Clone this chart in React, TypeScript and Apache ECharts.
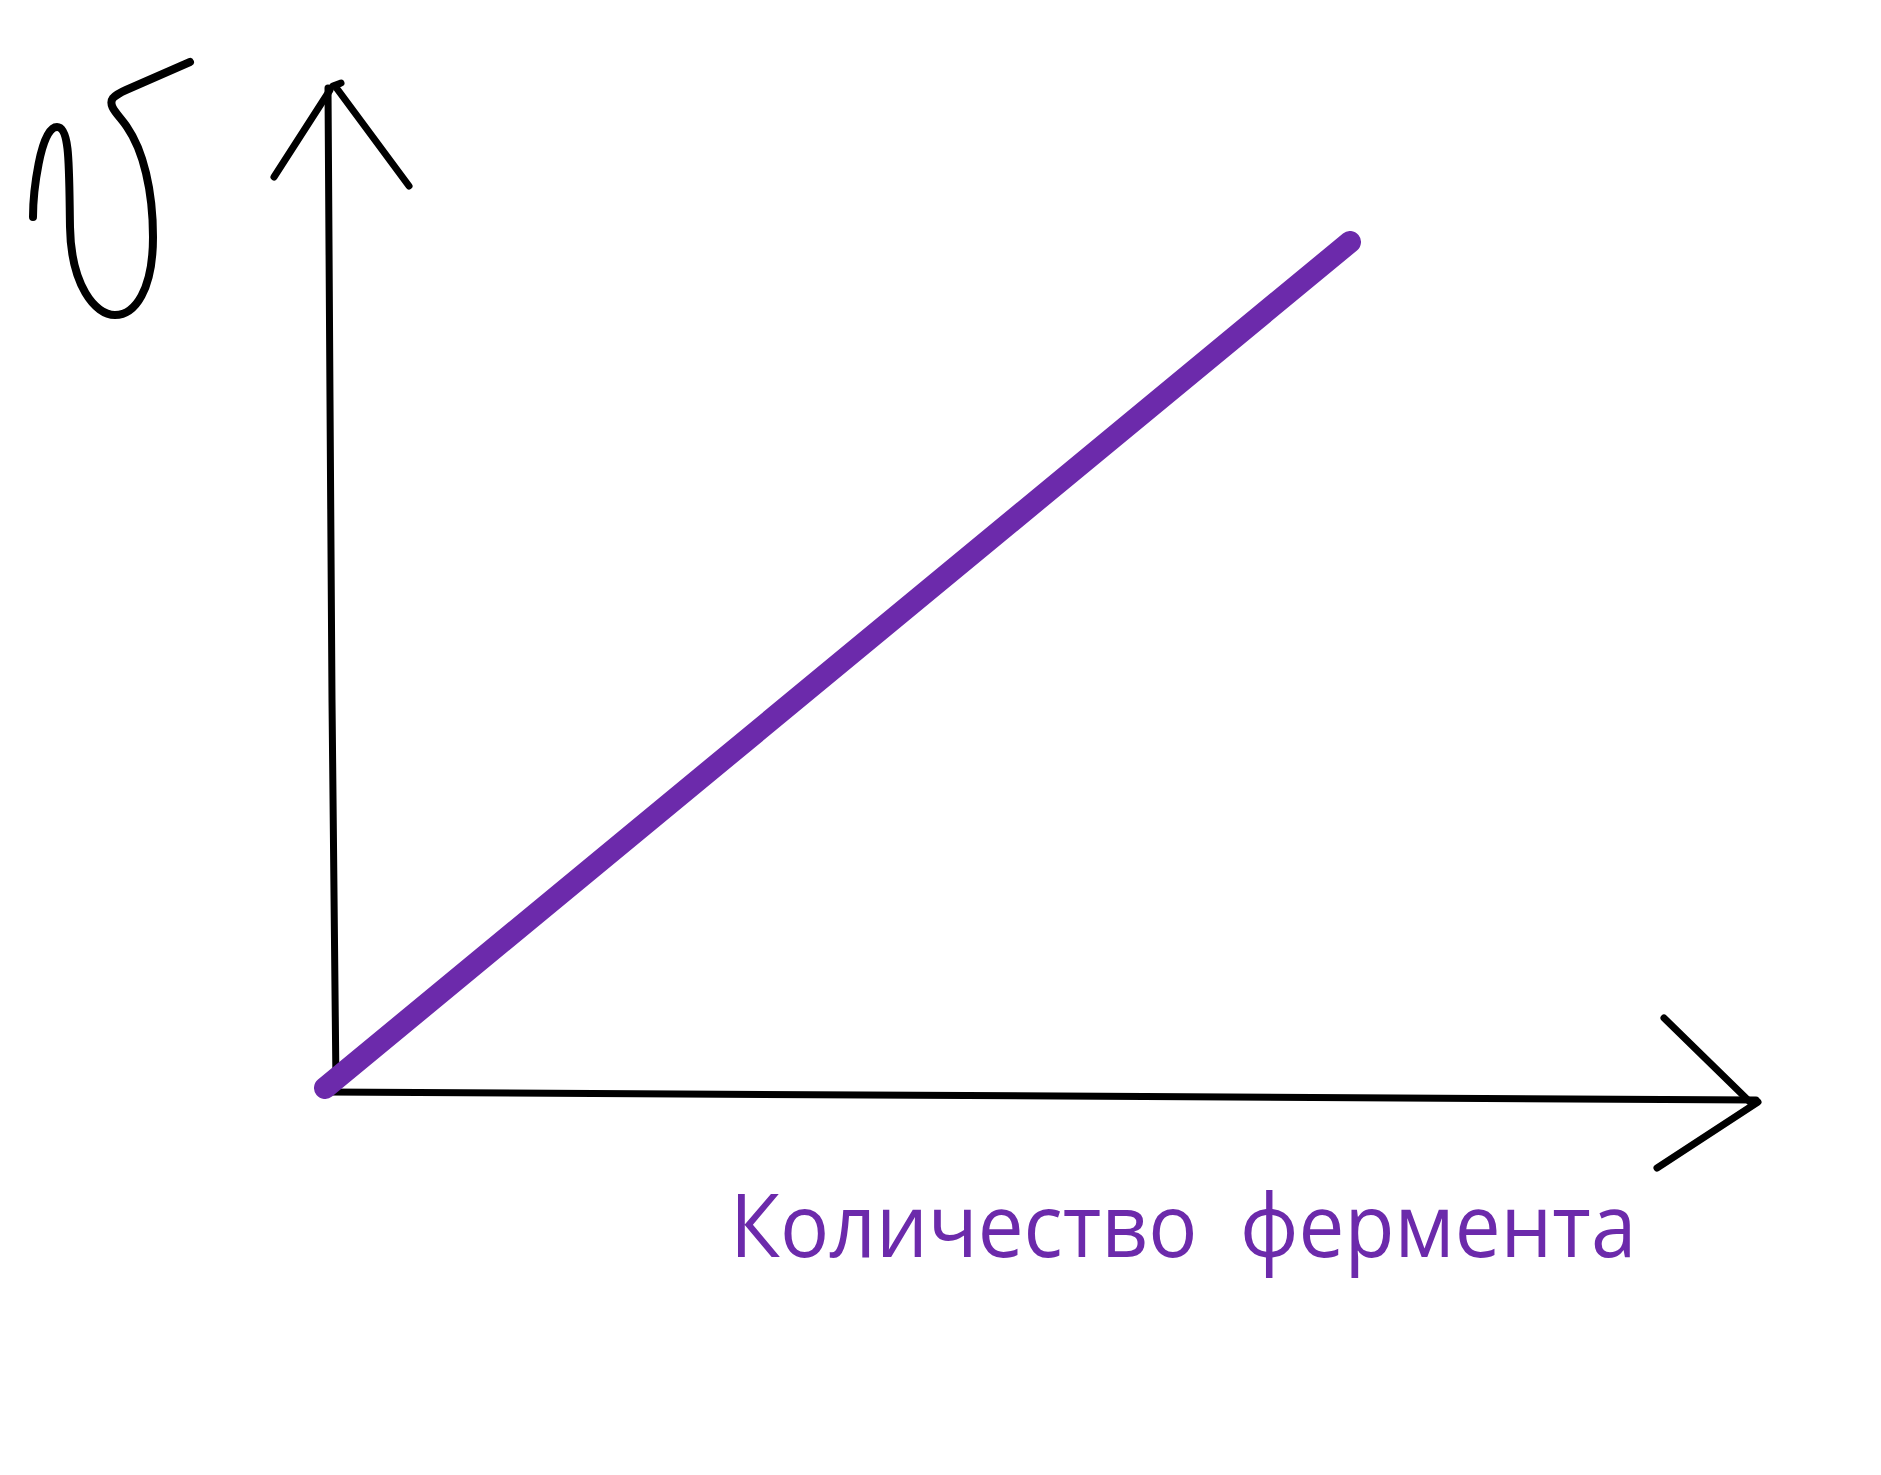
import React, { useEffect, useRef } from "react";
import * as echarts from "echarts";

// Data: reaction rate (υ) vs amount of enzyme — linear relationship
const enzymeAmount: number[] = [0, 10];
const reactionRate: number[] = [0, 10];
const xLabel = "Количество  фермента";

const PURPLE = "#6c2aab";

const vSymbolPath =
  "M33,217 C33,195 40,127 57,127 C70,127 69,165 70,227 C71,285 95,315 115,315 C135,315 153,290 153,237 C153,190 143,150 127,127 C119,115 107,106 113,98 Q117,94 126,90 L190,62";

let registered = false;
function registerShapes() {
  if (registered) return;
  echarts.graphic.registerShape("vsym", echarts.graphic.extendPath(vSymbolPath, {}));
  registered = true;
}

export default function App() {
  const ref = useRef<HTMLDivElement>(null);
  useEffect(() => {
    registerShapes();
    const chart = echarts.init(ref.current!, undefined, { renderer: "svg" });
    const black = { stroke: "#000", lineWidth: 7, lineCap: "round", fill: "none" };
    const option: any = {
      animation: false,
      backgroundColor: "#ffffff",
      grid: { left: 325, top: 242, width: 1025, height: 846 },
      xAxis: { type: "value", min: 0, max: 10, show: false },
      yAxis: { type: "value", min: 0, max: 10, show: false },
      series: [
        {
          type: "line",
          data: enzymeAmount.map((x, i) => [x, reactionRate[i]]),
          symbol: "none",
          lineStyle: { color: PURPLE, width: 22, cap: "round" },
          z: 5,
        },
      ],
      graphic: [
        // hand-drawn y axis
        { type: "polyline", shape: { points: [[328, 88], [330, 400], [332, 700], [336, 1086]] }, style: black, z: 1 },
        { type: "line", shape: { x1: 274, y1: 177, x2: 330, y2: 90 }, style: black, z: 1 },
        { type: "line", shape: { x1: 335, y1: 86, x2: 409, y2: 186 }, style: black, z: 1 },
        { type: "line", shape: { x1: 333, y1: 86, x2: 341, y2: 83 }, style: black, z: 1 },
        // hand-drawn x axis
        { type: "line", shape: { x1: 325, y1: 1092, x2: 1756, y2: 1100 }, style: black, z: 1 },
        { type: "line", shape: { x1: 1664, y1: 1018, x2: 1751, y2: 1103 }, style: black, z: 1 },
        { type: "line", shape: { x1: 1657, y1: 1168, x2: 1758, y2: 1102 }, style: black, z: 1 },
        // υ symbol
        {
          type: "vsym",
          x: 0,
          y: 0,
          scaleX: 1,
          scaleY: 1,
          style: { stroke: "#000", lineWidth: 8, fill: "none", lineCap: "round", lineJoin: "round" },
          z: 1,
        },
        // x-axis label
        {
          type: "text",
          x: 730,
          y: 1223,
          scaleX: 0.93,
          style: {
            text: xLabel,
            font: "88px 'Open Sans'",
            fill: PURPLE,
            align: "left",
            verticalAlign: "middle",
          },
          z: 1,
        },
      ],
    };
    chart.setOption(option);
    return () => chart.dispose();
  }, []);
  return (
    <div
      ref={ref}
      style={{ position: "absolute", left: 0, top: 0, width: 1881, height: 1475, background: "#fff" }}
    />
  );
}
